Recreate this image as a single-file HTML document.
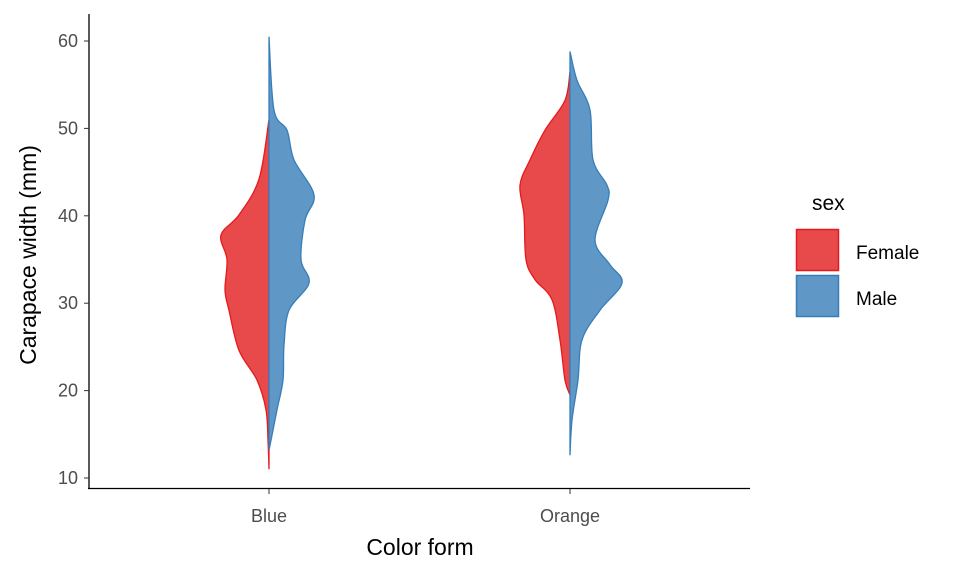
<!DOCTYPE html>
<html><head><meta charset="utf-8"><style>
body{margin:0;background:#fff}
svg{display:block;font-family:"Liberation Sans",Arial,sans-serif}
</style></head><body>
<svg id="chart" width="960" height="576">
<g id="marks"></g>
<line x1="89" y1="14" x2="89" y2="489" stroke="#000" stroke-width="1.3"/>
<line x1="88" y1="488.5" x2="750" y2="488.5" stroke="#000" stroke-width="1.3"/>
<g id="yticks"></g><g id="xticks"></g>
<text x="36" y="255" font-size="23" text-anchor="middle" transform="rotate(-90 36 255)">Carapace width (mm)</text>
<text x="420" y="555" font-size="23" text-anchor="middle">Color form</text>
<text x="812" y="210" font-size="21">sex</text>
<rect x="796.5" y="229.5" width="42" height="41" fill="#E8494A" stroke="#E41A1C" stroke-width="1.5"/>
<rect x="796.5" y="275.5" width="42" height="41" fill="#5F97C6" stroke="#377EB8" stroke-width="1.5"/>
<text x="856" y="259" font-size="19">Female</text>
<text x="856" y="305" font-size="19">Male</text>
</svg>
<script>
const categories=["Blue","Orange"];
const yTicks=[10,20,30,40,50,60];
// [value, density] pairs
const blueFemale=[[11,0],[14.3,1],[17.8,3],[21.2,12],[24.6,30],[29.2,40],[31.5,44],[35,42],[37.8,48],[40.1,30],[44.2,10],[51,0]];
const blueMale=[[13.2,0],[14.3,2],[17.8,8],[21.2,14],[25.2,15],[29.2,20],[32.3,40],[35,32],[39.5,36],[42.4,45],[46.4,25],[49.8,18],[52.1,5],[60.5,0]];
const orangeFemale=[[19.5,0],[21.2,5],[25.8,10],[30.4,18],[32.7,35],[35,44],[40.1,46],[43.5,50],[46.4,40],[49.8,25],[53.2,5],[56.5,0]];
const orangeMale=[[12.6,0],[16.6,2],[21.2,8],[25.8,12],[29.2,30],[32.3,52],[34.4,40],[37.2,25],[41.8,38],[43.5,37],[46.4,23],[52.1,20],[55.5,7],[58.8,0]];
const series=[{cat:"Blue",side:-1,d:blueFemale,sex:"female"},{cat:"Blue",side:1,d:blueMale,sex:"male"},
{cat:"Orange",side:-1,d:orangeFemale,sex:"female"},{cat:"Orange",side:1,d:orangeMale,sex:"male"}];
const y=v=>478-(v-10)*8.74;
const x=c=>269+categories.indexOf(c)*301;
const w=d=>d*1.0;
const NS="http://www.w3.org/2000/svg";
function smooth(pts){let s=`M${pts[0][0]},${pts[0][1]}`;
for(let i=0;i<pts.length-1;i++){const p0=pts[Math.max(0,i-1)],p1=pts[i],p2=pts[i+1],p3=pts[Math.min(pts.length-1,i+2)];
s+=` C${p1[0]+(p2[0]-p0[0])/6},${p1[1]+(p2[1]-p0[1])/6} ${p2[0]-(p3[0]-p1[0])/6},${p2[1]-(p3[1]-p1[1])/6} ${p2[0]},${p2[1]}`;}return s;}
const marks=document.getElementById('marks');
series.forEach(s=>{const cx=x(s.cat);const pts=s.d.map(p=>[cx+s.side*w(p[1]),y(p[0])]);
const p=document.createElementNS(NS,'path');
p.setAttribute('d',smooth(pts)+` L${cx},${y(s.d[s.d.length-1][0])} L${cx},${y(s.d[0][0])} Z`);
p.setAttribute('fill',s.sex==='female'?'#E8494A':'#5F97C6');
p.setAttribute('stroke',s.sex==='female'?'#E41A1C':'#377EB8');
p.setAttribute('stroke-width','1.3');


marks.appendChild(p);});
const yt=document.getElementById('yticks');
yTicks.forEach(t=>{const l=document.createElementNS(NS,'line');l.setAttribute('x1',84);l.setAttribute('x2',89);l.setAttribute('y1',y(t));l.setAttribute('y2',y(t));l.setAttribute('stroke','#333');


yt.appendChild(l);
const tx=document.createElementNS(NS,'text');tx.setAttribute('x',78);tx.setAttribute('y',y(t)+6);tx.setAttribute('text-anchor','end');tx.setAttribute('font-size','18');tx.setAttribute('fill','#4d4d4d');tx.textContent=t;


yt.appendChild(tx);});
const xt=document.getElementById('xticks');
categories.forEach(c=>{const l=document.createElementNS(NS,'line');l.setAttribute('x1',x(c));l.setAttribute('x2',x(c));l.setAttribute('y1',489);l.setAttribute('y2',494);l.setAttribute('stroke','#333');


xt.appendChild(l);
const tx=document.createElementNS(NS,'text');tx.setAttribute('x',x(c));tx.setAttribute('y',522);tx.setAttribute('text-anchor','middle');tx.setAttribute('font-size','18');tx.setAttribute('fill','#4d4d4d');tx.textContent=c;


xt.appendChild(tx);});
</script>
</body></html>
